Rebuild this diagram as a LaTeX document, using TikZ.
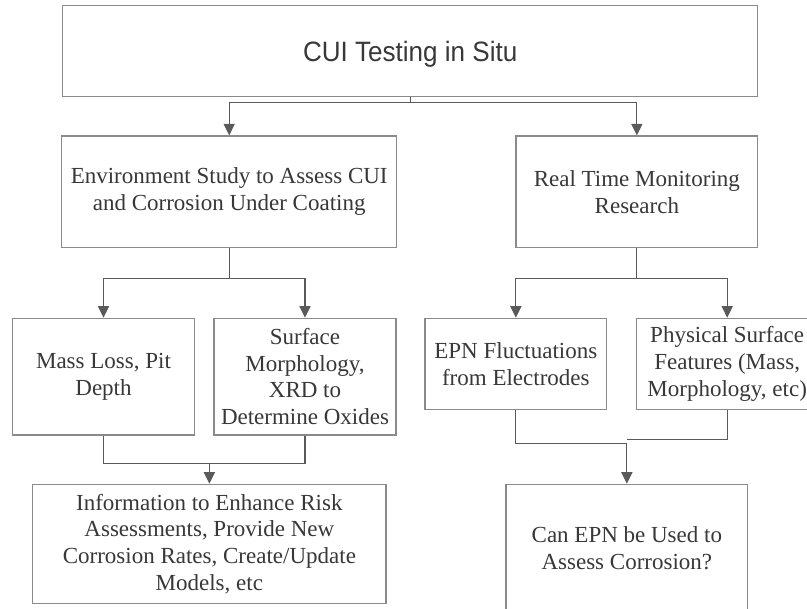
\documentclass[tikz,border=0pt]{standalone}
\usepackage{fontspec}
\setmainfont{Liberation Serif}
\newfontfamily\headfont[FakeStretch=0.93]{Liberation Sans}
\usetikzlibrary{arrows.meta}
\definecolor{boxline}{HTML}{8A8A8A}
\definecolor{connline}{HTML}{5A5A5A}
\definecolor{inktext}{HTML}{383838}
\tikzset{
  stepbox/.style={draw=boxline, line width=1.1pt, fill=white, rectangle,
    align=center, text=inktext, inner sep=0pt,
    font=\fontsize{23pt}{26.7pt}\selectfont},
  headbox/.style={stepbox, text height=20pt, text depth=0pt,
    font=\headfont\fontsize{28pt}{32pt}\selectfont},
  conn/.style={draw=connline, line width=1.2pt},
  arrowconn/.style={conn, -{Triangle[width=11pt,length=11.5pt]}},
}
\begin{document}
\begin{tikzpicture}[x=1pt, y=-1pt]
  \useasboundingbox (0,0) rectangle (807,609);
  \clip (0,0) rectangle (807,609);

  % top level
  \node[headbox, minimum width=695pt, minimum height=91pt] (top) at (410.2,51.2)
    {CUI Testing in Situ};

  % second level
  \node[stepbox, minimum width=335pt, minimum height=111.7pt] (env) at (229.2,191.85)
    {Environment Study to Assess CUI\\and Corrosion Under Coating};
  \node[stepbox, minimum width=241.7pt, minimum height=111.7pt] (rtm) at (636.85,191.85)
    {Real Time Monitoring\\Research};

  % third level
  \node[stepbox, minimum width=181.6pt, minimum height=116.7pt] (mass) at (103.5,376.65)
    {Mass Loss, Pit\\Depth};
  \node[stepbox, minimum width=182pt, minimum height=116.7pt] (surf) at (305,376.65)
    {Surface\\Morphology,\\XRD to\\Determine Oxides};
  \node[stepbox, minimum width=181.7pt, minimum height=91pt] (epn) at (515.85,363.8)
    {EPN Fluctuations\\from Electrodes};
  \node[stepbox, minimum width=181pt, minimum height=91pt] (phys) at (727.2,363.8)
    {Physical Surface\\Features (Mass,\\Morphology, etc)};

  % outcomes
  \node[stepbox, minimum width=353.3pt, minimum height=119pt] (info) at (209.35,543.8)
    {Information to Enhance Risk\\Assessments, Provide New\\Corrosion Rates, Create/Update\\Models, etc};
  \node[stepbox, minimum width=241.7pt, minimum height=127.7pt] (can) at (626.85,548.15)
    {Can EPN be Used to\\Assess Corrosion?};

  % branching connectors
  \draw[arrowconn] (top.south) -- ++(0,5) -| (env.north);
  \draw[arrowconn] (top.south) -- ++(0,5) -| (rtm.north);
  \draw[arrowconn] (env.south) -- ++(0,30) -| (mass.north);
  \draw[arrowconn] (env.south) -- ++(0,30) -| (surf.north);
  \draw[arrowconn] (rtm.south) -- ++(0,30) -| (epn.north);
  \draw[arrowconn] (rtm.south) -- ++(0,30) -| (phys.north);

  % merging connectors
  \coordinate (joinL) at (209.35,463.3);
  \draw[conn] (mass.south) |- (joinL);
  \draw[conn] (surf.south) |- (joinL);
  \draw[arrowconn] (joinL) -- (info.north);

  \coordinate (joinR) at (626.85,443.3);
  \coordinate (joinRup) at (626.85,439.3);
  \draw[conn] (epn.south) |- (joinR);
  \draw[conn] (phys.south) |- (joinRup);
  \draw[arrowconn] (joinR) -- (can.north);
\end{tikzpicture}
\end{document}
